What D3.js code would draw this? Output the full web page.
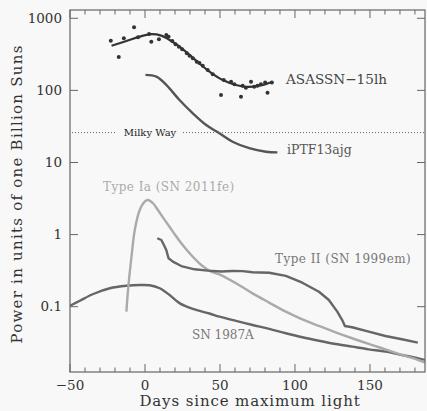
<!DOCTYPE html>
<html><head><meta charset="utf-8">
<script src="https://cdn.jsdelivr.net/npm/d3@7"></script>
<style>
html,body{margin:0;padding:0;background:#f8f8f8;}
svg{display:block;}
text{font-family:"DejaVu Serif",serif;}
</style></head>
<body><svg id="c" width="427" height="411"></svg>
<script>
// ---- data (days since maximum, power in units of 1e9 Suns) ----
const asassnDotDays = [-22.8,-17.5,-14.1,-7.3,-4.6,2.7,4.2,9.3,14.2,15.7,18.2,20.4,22.6,24.8,27.9,29.7,31.9,34.5,36.3,38.5,41.8,45.2,50.7,52.5,57.4,59.6,64.0,65.1,67.3,70.7,72.8,75.0,77.3,80.1,81.7,84.6];
const asassnDotVals = [489,290,528,750,545,606,473,512,587,556,484,436,404,372,327,303,279,250,240,220,192,167,86.3,139,132,122,81.8,116,109,132,112,116,122,129,92.9,129];
const asassnFitDays = [-22.3,-12.4,-3.5,3.1,10.9,16.4,23.0,29.7,36.3,43.0,51.8,60.7,67.3,76.2,85.0];
const asassnFitVals = [417,484,556,600,574,500,406,310,236,182,139,119,112,116,132];
const iptfDays = [0.3,7.6,14.2,23.0,31.9,40.8,49.6,58.4,69.5,80.6,88.3];
const iptfVals = [164,155,119,73.6,48.1,33.1,25.4,19.4,15.8,14.1,13.8];
const ia_Days = [-12.4,-11.3,-9.0,-6.8,-3.5,-0.2,2.0,5.3,8.6,13.1,18.6,24.2,30.8,37.5,44.1,49.6,60.7,71.7,82.8,93.9,104.9,116.0,127.1,138.1,149.2,160.3,171.3,182.4,187.1];
const ia_Vals = [0.0853,0.171,0.493,1.16,2.19,2.86,3.02,2.72,2.19,1.60,1.10,0.757,0.521,0.379,0.306,0.280,0.211,0.153,0.114,0.0853,0.0668,0.054,0.0441,0.0365,0.0304,0.0256,0.0214,0.0182,0.0167];
const typeIIDays = [8.2,10.9,12.6,14.2,15.7,18.6,24.2,33.0,41.8,50.7,58.4,65.1,71.7,82.8,93.9,104.9,116.0,122.6,128.2,131.5,133.3,138.1,149.2,160.3,171.3,181.9];
const typeIIVals = [0.889,0.841,0.718,0.611,0.469,0.421,0.366,0.330,0.316,0.308,0.313,0.311,0.300,0.296,0.267,0.215,0.161,0.124,0.0853,0.0653,0.054,0.0518,0.045,0.0392,0.0353,0.0317];
const sn87Days = [-50,-43.4,-34.5,-23.4,-12.4,-3.5,3.1,9.8,16.4,23.0,31.9,43.0,49.6,60.7,71.7,82.8,93.9,104.9,116.0,127.1,138.1,149.2,160.3,171.3,182.4,187.1];
const sn87Vals = [0.103,0.121,0.150,0.180,0.195,0.200,0.198,0.180,0.145,0.112,0.093,0.0805,0.0727,0.0634,0.0557,0.0491,0.0428,0.0377,0.0337,0.0304,0.0279,0.0256,0.0238,0.0214,0.0192,0.0182];
const milkyWay = 26;
const xTicks = [-50,0,50,100,150];
const yTicks = [0.1,1,10,100,1000];
const yTickLabels = ["0.1","1","10","100","1000"];

// ---- layout ----
const L=70, R=425, T=10, B=372;
const x = d3.scaleLinear().domain([-50,186.7]).range([L,R]);
const y = d3.scaleLog().domain([0.01242,1303]).range([B,T]);
const svg = d3.select("#c");
svg.append("defs").append("clipPath").attr("id","clip")
  .append("rect").attr("x",L).attr("y",T).attr("width",R-L).attr("height",B-T);
const g = svg.append("g").attr("clip-path","url(#clip)");
const smooth = d3.line().x(d=>x(d[0])).y(d=>y(d[1])).curve(d3.curveCatmullRom.alpha(0.5));
const straight = d3.line().x(d=>x(d[0])).y(d=>y(d[1]));
const zip=(a,b)=>a.map((v,i)=>[v,b[i]]);

// Milky Way dotted line
const mwY = y(milkyWay);
[[72,117],[183,R]].forEach(s=>{
  svg.append("line").attr("x1",s[0]).attr("x2",s[1]).attr("y1",mwY).attr("y2",mwY)
    .attr("stroke","#666").attr("stroke-width",1).attr("stroke-dasharray","1,2");
});
svg.append("text").attr("x",150).attr("y",mwY+3.5).attr("text-anchor","middle")
  .attr("font-size",10).attr("fill","#222").text("Milky Way");

// curves
g.append("path").attr("d",smooth(zip(sn87Days,sn87Vals))).attr("fill","none").attr("stroke","#666").attr("stroke-width",2.4);
g.append("path").attr("d",smooth(zip(ia_Days,ia_Vals))).attr("fill","none").attr("stroke","#aaa").attr("stroke-width",2.4);
g.append("path").attr("d",straight(zip(typeIIDays,typeIIVals))).attr("fill","none").attr("stroke","#666").attr("stroke-width",2.4).attr("stroke-linejoin","round");
g.append("path").attr("d",smooth(zip(iptfDays,iptfVals))).attr("fill","none").attr("stroke","#555").attr("stroke-width",2.4);
g.append("path").attr("d",smooth(zip(asassnFitDays,asassnFitVals))).attr("fill","none").attr("stroke","#333").attr("stroke-width",2.2);
g.selectAll("circle.d").data(zip(asassnDotDays,asassnDotVals)).enter().append("circle")
  .attr("cx",d=>x(d[0])).attr("cy",d=>y(d[1])).attr("r",2).attr("fill","#333");

// labels
const lab=(t,xx,yy,fs,col,ls)=>svg.append("text").attr("x",xx).attr("y",yy).attr("font-size",fs).attr("fill",col).attr("letter-spacing",ls||0).text(t);
lab("ASASSN\u221215lh",286,84,13.6,"#444");
lab("iPTF13ajg",287,154,12.5,"#555");
lab("Type Ia (SN 2011fe)",103,191,12,"#aaa",0.45);
lab("Type II (SN 1999em)",275,263,12,"#777",0.45);
lab("SN 1987A",192,339,12,"#777");

// frame
svg.append("rect").attr("x",L).attr("y",T).attr("width",R-L).attr("height",B-T)
  .attr("fill","none").attr("stroke","#666").attr("stroke-width",1.2);

// x ticks (bottom & top)
d3.range(-50,187,10).forEach(d=>{
  const len = d%50===0?8:4.5;
  svg.append("line").attr("x1",x(d)).attr("x2",x(d)).attr("y1",B).attr("y2",B-len).attr("stroke","#666").attr("stroke-width",1);
  svg.append("line").attr("x1",x(d)).attr("x2",x(d)).attr("y1",T).attr("y2",T+len).attr("stroke","#666").attr("stroke-width",1);
});
xTicks.forEach(d=>{
  svg.append("text").attr("x",x(d)).attr("y",390).attr("text-anchor","middle").attr("font-size",13.5).attr("fill","#333")
    .text(d<0?"\u2212"+Math.abs(d):String(d));
});
// y ticks
yTicks.forEach((d,i)=>{
  svg.append("line").attr("x1",L).attr("x2",L+8).attr("y1",y(d)).attr("y2",y(d)).attr("stroke","#666");
  svg.append("line").attr("x1",R).attr("x2",R-8).attr("y1",y(d)).attr("y2",y(d)).attr("stroke","#666");
  svg.append("text").attr("x",62).attr("y",y(d)+4.8).attr("text-anchor","end").attr("font-size",13.5).attr("fill","#333").text(yTickLabels[i]);
});
// axis titles
svg.append("text").attr("x",250).attr("y",406).attr("text-anchor","middle").attr("font-size",15).attr("letter-spacing",0.87).attr("fill","#333").text("Days since maximum light");
svg.append("text").attr("transform","translate(21.5,194) rotate(-90)").attr("text-anchor","middle").attr("font-size",15).attr("letter-spacing",1.25).attr("fill","#333").text("Power in units of one Billion Suns");
</script></body></html>
